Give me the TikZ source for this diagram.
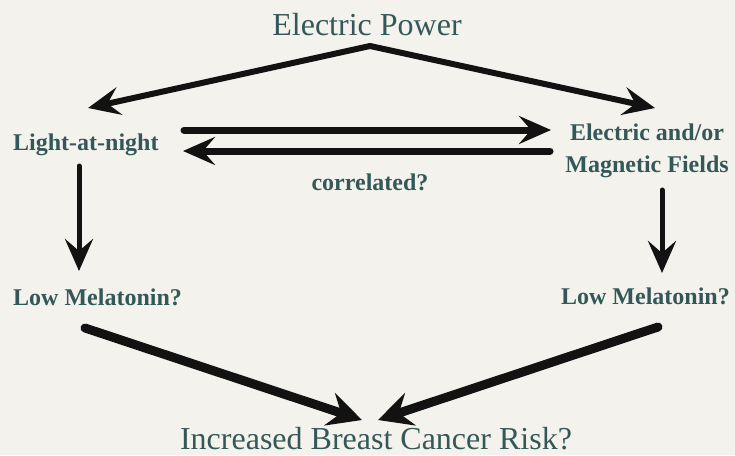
\documentclass[tikz,border=0pt]{standalone}
\usepackage{fontspec}
\setmainfont{Liberation Serif}
\usetikzlibrary{arrows.meta}
\definecolor{bg}{RGB}{244,242,237}
\definecolor{txt}{RGB}{52,88,88}
\definecolor{ink}{RGB}{18,18,18}
\begin{document}
\begin{tikzpicture}[x=1pt,y=-1pt,
  lbl/.style={text=txt, font=\fontsize{24}{32}\selectfont\bfseries, inner sep=0pt},
  big/.style={text=txt, font=\fontsize{32}{36}\selectfont, inner sep=0pt},
  arr/.style={draw=ink, line width=#1, line cap=round,
    -{Stealth[length=32pt,width=28pt,inset=12pt]}},
  barr/.style={draw=ink, line width=#1, line cap=round,
    -{Stealth[length=34pt,width=34pt,inset=12pt]}}]
\fill[bg] (0,0) rectangle (735,455);
\useasboundingbox (0,0) rectangle (735,455);
% nodes
\node[big,anchor=base] (ep) at (367,35) {Electric Power};
\node[lbl,anchor=west] (lan) at (13,145) {Light-at-night};
\node[lbl,align=center] (emf) at (647,151) {Electric and/or\\Magnetic Fields};
\node[lbl] (corr) at (370,182) {correlated?};
\node[lbl,anchor=west] (lml) at (13,297) {Low Melatonin?};
\node[lbl,anchor=east] (lmr) at (730,296) {Low Melatonin?};
\node[big,anchor=base] (bcr) at (376,449) {Increased Breast Cancer Risk?};
% arrow end points
\coordinate (apex) at (370,46);
\coordinate (ltip) at (88,108);
\coordinate (rtip) at (655,108);
\coordinate (c1s) at (184,130);
\coordinate (c1e) at (551,130);
\coordinate (c2s) at (550,151);
\coordinate (c2e) at (183,151);
\coordinate (v1s) at (79,166);
\coordinate (v1e) at (79,271);
\coordinate (v2s) at (662,190);
\coordinate (v2e) at (662,273);
\coordinate (b1s) at (85,328);
\coordinate (b1e) at (362,420);
\coordinate (b2s) at (658,327);
\coordinate (b2e) at (378,420);
% connectors
\draw[arr=6pt] (apex) -- (ltip);
\draw[arr=6pt] (apex) -- (rtip);
\draw[arr=7pt] (c1s) -- (c1e);
\draw[arr=7pt] (c2s) -- (c2e);
\draw[arr=5pt] (v1s) -- (v1e);
\draw[arr=5pt] (v2s) -- (v2e);
\draw[barr=9pt] (b1s) -- (b1e);
\draw[barr=9pt] (b2s) -- (b2e);
\end{tikzpicture}
\end{document}
